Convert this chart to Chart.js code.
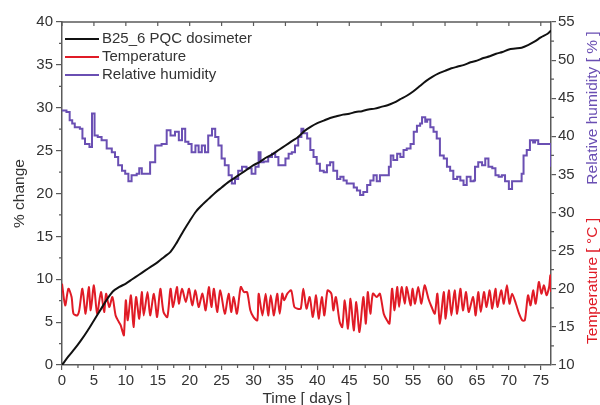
<!DOCTYPE html>
<html><head><meta charset="utf-8">
<script src="https://cdn.jsdelivr.net/npm/chart.js@4.4.1/dist/chart.umd.min.js"></script>
<style>html,body{margin:0;padding:0;background:#fff}#wrap{width:600px;height:405px;position:relative}</style>
</head><body><div id="wrap"><canvas id="c" width="600" height="405"></canvas></div>
<script>
// ---- data ----
const seriesNames = ["B25_6 PQC dosimeter", "Temperature", "Relative humidity"];
const xTitle = "Time [ days ]";
const yLeftTitle = "% change";
const yRightTitleRH = "Relative humidity [ % ]";
const yRightTitleT = "Temperature [ °C ]";

const doseDays = [0,1,2,3,4,5,6,7,8,9,10,11,12,13,14,15,16,17,18,19,20,21,22,23,24,25,26,27,28,29,30,31,32,33,34,35,36,37,38,39,40,41,42,43,44,45,46,47,48,49,50,51,52,53,54,55,56,57,58,59,60,61,62,63,64,65,66,67,68,69,70,71,72,73,74,75,76,76.6];
const doseVals = [0,1.0,1.9,2.9,4.0,5.2,6.4,7.6,8.6,9.1,9.5,10.0,10.5,11.0,11.5,12.0,12.6,13.2,14.3,15.6,16.8,17.9,18.7,19.4,20.1,20.7,21.3,21.8,22.3,22.8,23.3,23.7,24.2,24.6,25.1,25.6,26.1,26.6,27.3,27.8,28.2,28.5,28.8,29.0,29.2,29.3,29.5,29.6,29.8,29.9,30.1,30.3,30.6,31.0,31.4,31.9,32.5,33.1,33.6,34.0,34.3,34.6,34.8,35.0,35.3,35.5,35.8,36.0,36.3,36.5,36.8,36.9,37.0,37.3,37.7,38.2,38.6,39.0];

const tempDays = [0.0,0.5,1.0,1.5,1.8,2.4,2.7,3.2,3.7,4.2,4.5,5.0,5.5,6.1,6.6,6.9,7.4,7.9,8.4,8.9,9.2,9.5,9.7,10.0,10.3,10.8,11.2,11.6,12.1,12.5,12.8,13.4,13.8,14.4,14.9,15.4,15.9,16.5,17.0,17.4,18.0,18.3,18.8,19.4,19.9,20.4,20.9,21.4,22.0,22.5,23.0,23.4,23.8,24.3,24.8,25.5,26.1,26.5,26.9,27.4,28.0,28.5,29.0,29.5,30.0,30.6,30.8,31.4,31.9,32.3,32.7,33.2,33.7,34.1,34.5,34.8,35.3,35.9,36.4,36.9,37.4,37.8,38.3,38.8,39.3,39.8,40.2,40.7,41.1,41.6,42.2,42.5,42.9,43.5,43.9,44.3,44.8,45.2,45.7,46.1,46.6,47.2,47.6,47.9,48.3,48.7,49.3,49.8,50.4,50.9,51.3,51.7,52.1,52.5,52.8,53.2,53.7,54.0,54.6,54.9,55.3,55.8,56.3,56.8,57.4,57.9,58.4,58.8,59.2,59.8,60.1,60.6,61.0,61.5,61.9,62.4,62.8,63.3,63.7,64.4,64.8,65.2,65.6,66.1,66.5,67.0,67.4,67.9,68.2,68.8,69.2,69.7,70.1,70.5,71.1,71.6,72.1,72.5,73.0,73.4,73.8,74.2,74.7,75.1,75.5,75.9,76.3,76.5,76.6];
const tempVals = [20.67,17.82,20.01,18.92,16.73,16.51,17.17,20.01,16.73,20.23,17.17,20.45,16.73,19.57,16.95,19.36,17.61,18.92,16.51,15.64,15.20,14.33,13.89,18.48,15.86,19.14,14.98,18.92,16.08,19.57,16.51,19.57,16.51,19.36,16.29,20.01,16.95,16.29,20.01,17.61,20.23,18.04,20.01,18.26,20.01,17.82,19.79,17.61,19.36,17.17,20.23,17.61,20.01,16.95,19.79,16.73,19.36,16.95,18.92,16.73,20.23,19.57,19.57,17.17,16.29,15.86,19.36,16.51,19.36,16.51,19.14,16.51,19.36,16.73,19.36,18.48,19.36,19.79,17.61,17.39,17.39,20.01,17.39,18.92,16.29,19.14,16.08,18.92,16.51,19.79,19.36,17.17,18.92,15.64,14.98,18.48,14.76,18.70,14.54,18.26,14.33,18.92,15.42,19.57,16.73,19.36,18.92,19.36,16.73,15.86,15.42,20.01,17.17,20.23,17.61,20.23,18.04,20.23,17.82,20.01,18.04,20.23,18.04,20.45,18.70,17.61,16.73,19.36,15.42,19.57,16.08,19.79,16.51,19.79,16.73,20.01,17.17,19.57,16.95,18.92,16.51,19.57,16.95,19.57,17.61,19.79,17.39,20.01,17.61,19.79,18.04,20.45,18.04,19.36,18.04,16.73,15.86,15.86,19.14,17.82,19.79,18.04,20.89,19.36,20.45,19.14,20.23,21.76,19.57];

const rhDays = [0,0.7,1.2,1.6,2.0,2.8,3.2,3.6,4.3,4.7,5.1,5.6,6.2,7.0,7.8,8.3,8.8,9.4,9.9,10.4,10.9,11.7,12.1,12.5,13.3,13.8,14.6,15.6,16.4,17.0,17.7,18.3,18.8,19.3,19.8,20.3,20.9,21.4,21.9,22.4,22.9,23.5,24.0,24.5,25.0,25.5,26.1,26.6,27.1,27.6,28.2,28.9,29.7,30.3,30.8,31.1,31.6,32.3,32.9,33.4,33.9,34.4,35.0,35.5,36.0,36.5,37.0,37.5,37.8,38.4,38.9,39.4,39.9,40.4,41.0,41.5,42.0,42.5,43.1,43.6,44.1,44.6,45.1,45.7,46.2,46.7,47.2,47.8,48.3,48.8,49.3,49.8,50.6,51.2,51.5,51.9,52.5,53.0,53.5,54.0,54.6,55.1,55.6,56.1,56.4,56.9,57.2,57.7,58.2,58.7,59.2,59.8,60.3,60.8,61.3,61.9,62.4,62.9,63.4,64.0,64.5,64.7,65.2,65.8,66.3,66.8,67.4,67.9,68.4,68.9,69.4,70.0,70.5,71.5,72.0,72.3,72.8,73.3,73.8,74.1,74.6,76.2,76.6];
const rhVals = [43.4,43.2,42.1,41.7,41.2,41.0,39.7,39.0,38.6,43.0,40.1,39.9,39.5,38.4,37.9,37.3,36.2,35.5,35.1,34.1,34.9,35.1,35.8,35.1,35.1,36.6,38.8,39.0,40.8,40.1,40.6,39.5,41.0,39.3,39.0,37.9,38.8,37.9,38.8,37.9,40.1,41.0,39.9,38.8,37.1,36.2,34.9,33.8,34.4,35.5,36.0,35.8,35.1,36.0,37.9,36.6,36.7,37.3,37.7,37.3,36.2,36.2,37.1,37.7,37.9,38.8,39.9,41.0,40.4,39.7,38.2,37.3,36.4,35.5,35.3,36.2,36.6,35.5,34.4,34.7,34.2,33.8,33.8,33.3,32.9,32.3,32.7,33.6,34.2,34.9,34.1,34.9,34.9,36.0,37.5,36.9,37.7,37.3,38.2,38.4,39.0,40.6,41.4,41.7,42.5,41.9,42.2,41.2,40.6,39.7,37.5,37.1,36.0,35.5,34.4,34.7,34.2,33.6,34.7,34.1,34.2,36.0,36.6,36.2,37.1,36.0,35.8,34.9,34.7,34.9,34.1,33.1,34.1,34.1,35.1,37.5,38.2,39.5,39.2,39.5,39.0,39.0,36.0];

const xRange = [0, 76.6];
const yLeftRange = [0, 40];
const yRightRange = [10, 55];

// ---- chart ----
const FONT = "'Liberation Sans', Arial, sans-serif";
const AXIS = '#5a5a5a';
const TXT = '#333';
const COLORS = ['#111111', '#e01b26', '#6a4fb3'];
const pts = (xs, ys) => xs.map((x, i) => ({x, y: ys[i]}));

const extras = {
  id: 'extras',
  afterDraw(chart) {
    const {ctx, chartArea: a, scales} = chart;
    const sx = scales.x, sy = scales.y, sy1 = scales.y1;
    ctx.save();
    ctx.strokeStyle = AXIS; ctx.lineWidth = 1.5;
    ctx.beginPath(); ctx.moveTo(a.left, a.top); ctx.lineTo(a.right, a.top); ctx.stroke();
    ctx.lineWidth = 1.2;
    ctx.beginPath();
    for (let v = 0; v <= xRange[1]; v += 5) {
      const px = sx.getPixelForValue(v);
      ctx.moveTo(px, a.top); ctx.lineTo(px, a.top + 4);
    }
    for (let v = 2.5; v <= xRange[1]; v += 5) {
      const px = sx.getPixelForValue(v);
      ctx.moveTo(px, a.bottom); ctx.lineTo(px, a.bottom + 3);
    }
    for (let v = 2.5; v < yLeftRange[1]; v += 5) {
      const py = sy.getPixelForValue(v);
      ctx.moveTo(a.left, py); ctx.lineTo(a.left - 3, py);
    }
    for (let v = 12.5; v < yRightRange[1]; v += 5) {
      const py = sy1.getPixelForValue(v);
      ctx.moveTo(a.right, py); ctx.lineTo(a.right + 3, py);
    }
    ctx.stroke();

    ctx.font = '15px ' + FONT;
    ctx.textBaseline = 'middle'; ctx.textAlign = 'left';
    chart.data.datasets.forEach((ds, i) => {
      const y = 39 + i * 18;
      ctx.strokeStyle = ds.borderColor; ctx.lineWidth = 2;
      ctx.beginPath(); ctx.moveTo(a.left + 3, y); ctx.lineTo(a.left + 37, y); ctx.stroke();
      ctx.fillStyle = TXT;
      ctx.fillText(ds.label, a.left + 40, y);
    });

    ctx.font = '15.5px ' + FONT;
    ctx.textAlign = 'center';
    ctx.save(); ctx.translate(593, 108); ctx.rotate(-Math.PI / 2);
    ctx.fillStyle = COLORS[2]; ctx.fillText(yRightTitleRH, 0, 0); ctx.restore();
    ctx.save(); ctx.translate(593, 281); ctx.rotate(-Math.PI / 2);
    ctx.fillStyle = COLORS[1]; ctx.fillText(yRightTitleT, 0, 0); ctx.restore();
    ctx.restore();
  }
};

const tickFont = {family: FONT, size: 15};
new Chart(document.getElementById('c'), {
  type: 'line',
  data: {
    datasets: [
      {label: seriesNames[0], data: pts(doseDays, doseVals), yAxisID: 'y', borderColor: COLORS[0], borderWidth: 2, pointRadius: 0, tension: 0.3},
      {label: seriesNames[1], data: pts(tempDays, tempVals), yAxisID: 'y1', borderColor: COLORS[1], borderWidth: 2, pointRadius: 0, tension: 0.25, borderJoinStyle: 'round'},
      {label: seriesNames[2], data: pts(rhDays, rhVals), yAxisID: 'y1', borderColor: COLORS[2], borderWidth: 2, pointRadius: 0, stepped: 'before'}
    ]
  },
  options: {
    responsive: false, animation: false, events: [],
    layout: {padding: {top: 22, left: 0, right: 0, bottom: 0}},
    plugins: {legend: {display: false}, tooltip: {enabled: false}},
    scales: {
      x: {
        type: 'linear', position: 'bottom', min: xRange[0], max: xRange[1],
        ticks: {stepSize: 5, includeBounds: false, font: tickFont, color: TXT, padding: 2, maxRotation: 0},
        grid: {drawOnChartArea: false, tickLength: 5, color: AXIS, lineWidth: 1.2},
        border: {color: AXIS, width: 1.5},
        title: {display: true, text: xTitle, font: {family: FONT, size: 15.5}, color: TXT, padding: {top: 0, bottom: -3}},
        afterFit: s => { s.height = 40; }
      },
      y: {
        position: 'left', min: yLeftRange[0], max: yLeftRange[1],
        ticks: {stepSize: 5, font: tickFont, color: TXT, padding: 3},
        grid: {drawOnChartArea: false, tickLength: 6, color: AXIS, lineWidth: 1.2},
        border: {color: AXIS, width: 1.5},
        title: {display: true, text: yLeftTitle, font: {family: FONT, size: 15.5}, color: TXT, padding: {top: 10, bottom: 0}},
        afterFit: s => { s.width = 62; }
      },
      y1: {
        position: 'right', min: yRightRange[0], max: yRightRange[1],
        ticks: {stepSize: 5, font: tickFont, color: TXT, padding: 2},
        grid: {drawOnChartArea: false, tickLength: 5, color: AXIS, lineWidth: 1.2},
        border: {color: AXIS, width: 1.5},
        afterFit: s => { s.width = 49; }
      }
    }
  },
  plugins: [extras]
});
</script>
</body></html>
